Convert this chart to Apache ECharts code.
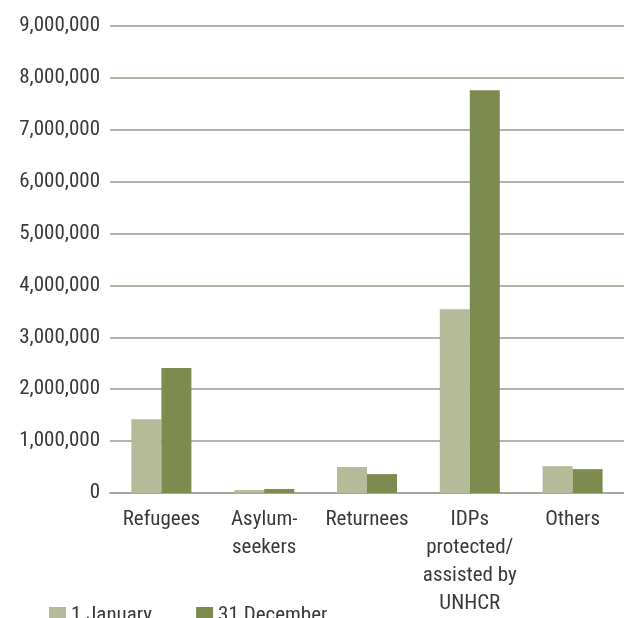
<!DOCTYPE html>
<html>
<head>
<meta charset="utf-8">
<script src="https://cdn.jsdelivr.net/npm/echarts@6/dist/echarts.min.js"></script>
<style>
html,body{margin:0;padding:0;background:#fff;}
#c{width:624px;height:618px;}
</style>
</head>
<body>
<div id="c"></div>
<script>
var categories = ['Refugees', 'Asylum-\nseekers', 'Returnees', 'IDPs\nprotected/\nassisted by\nUNHCR', 'Others'];
var january = [1420000, 55000, 500000, 3540000, 517000];
var december = [2410000, 78000, 364000, 7760000, 460000];
var seriesNames = ['1 January', '31 December'];
var yTicks = {min: 0, max: 9000000, interval: 1000000};

var FONT = '"Liberation Sans Narrow", "Roboto Condensed", "Arial Narrow", Roboto, sans-serif';
var chart = echarts.init(document.getElementById('c'), null, {renderer: 'canvas'});
chart.setOption({
  animation: false,
  backgroundColor: '#ffffff',
  color: ['#b5bb98', '#7d8b4e'],
  legend: {
    left: 44, top: 600,
    itemWidth: 17, itemHeight: 17, itemGap: 44,
    icon: 'rect',
    textStyle: {fontFamily: FONT, fontSize: 21, color: '#3a3a3a'},
    data: seriesNames
  },
  grid: {left: 110, right: -2, top: 26, bottom: 119, containLabel: false},
  xAxis: {
    type: 'category',
    data: categories,
    axisLine: {show: true, lineStyle: {color: '#aca59c', width: 2}},
    axisTick: {show: false},
    axisLabel: {fontFamily: FONT, fontSize: 21, color: '#3a3a3a', lineHeight: 28, margin: 13, interval: 0}
  },
  yAxis: {
    type: 'value',
    min: yTicks.min, max: yTicks.max, interval: yTicks.interval,
    axisLine: {show: false},
    axisTick: {show: false},
    splitLine: {lineStyle: {color: '#b8b2a8', width: 2}},
    axisLabel: {
      fontFamily: FONT, fontSize: 21, color: '#3a3a3a', margin: 10,
      formatter: function (v) { return v.toString().replace(/\B(?=(\d{3})+(?!\d))/g, ','); }
    }
  },
  series: [
    {name: seriesNames[0], type: 'bar', data: january, barWidth: 30, barGap: '0%'},
    {name: seriesNames[1], type: 'bar', data: december, barWidth: 30, barGap: '0%'}
  ]
});
</script>
</body>
</html>
